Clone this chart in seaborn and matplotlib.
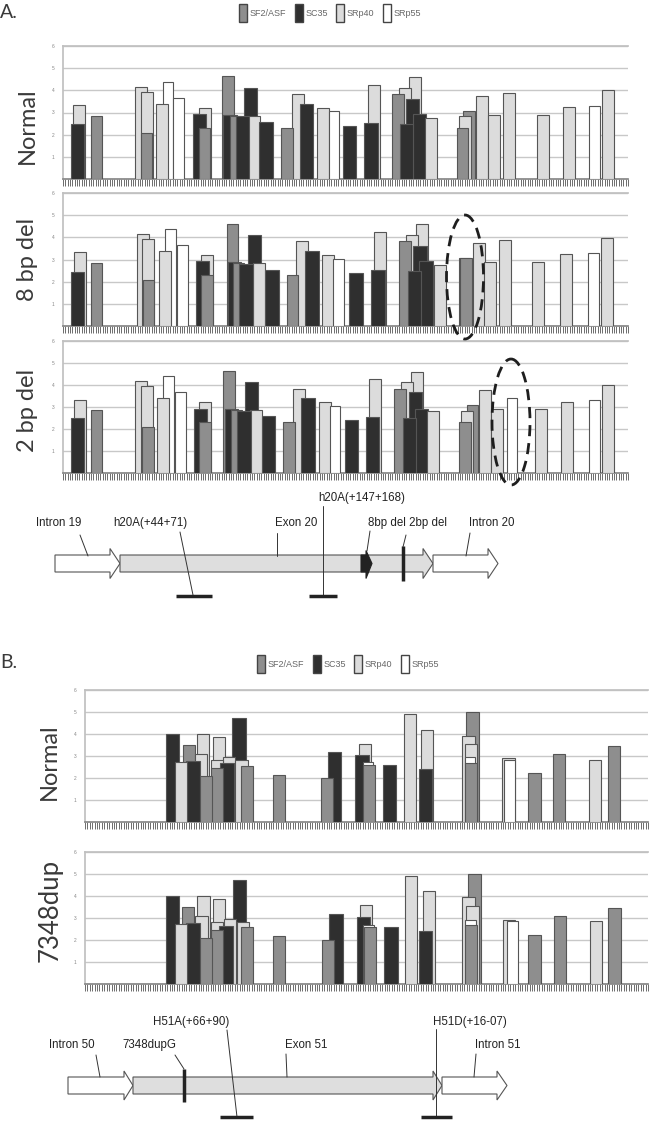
import numpy as np
import pandas as pd
import seaborn as sns
import matplotlib.pyplot as plt
from matplotlib.patches import Patch, Polygon, Ellipse

sns.set_theme(style="white")
plt.rcParams["font.family"] = ["Liberation Sans", "DejaVu Sans"]

# ESEfinder motif scores (threshold-passing hits) per protein
PROTEINS = ["SF2/ASF", "SC35", "SRp40", "SRp55"]
COLORS = {"SF2/ASF": "#8e8e8e", "SC35": "#2f2f2f", "SRp40": "#dcdcdc", "SRp55": "#ffffff"}
WIDTHS = {"SF2/ASF": 5.0, "SC35": 5.7, "SRp40": 5.1, "SRp55": 4.4}
EDGE = "#555555"

# --- Exon 20 (panel A) ---
A_LEN = 242
a_normal_prot = ["SC35", "SRp40", "SF2/ASF", "SRp40", "SRp40", "SF2/ASF", "SRp40", "SRp55", "SRp55",
                 "SC35", "SRp40", "SF2/ASF", "SF2/ASF", "SC35", "SF2/ASF", "SC35", "SC35", "SRp40",
                 "SC35", "SF2/ASF", "SRp40", "SC35", "SRp40", "SRp55", "SC35", "SRp40", "SC35",
                 "SF2/ASF", "SRp40", "SRp40", "SC35", "SC35", "SC35", "SRp40", "SF2/ASF", "SRp40",
                 "SF2/ASF", "SRp40", "SRp40", "SRp40", "SRp40", "SRp40", "SRp55", "SRp40"]
a_normal_start = [3.30, 4.41, 11.86, 30.84, 33.28, 33.28, 39.83, 42.70, 47.24, 55.55, 58.38, 58.12,
                  68.10, 68.66, 71.32, 74.10, 77.40, 79.37, 84.08, 93.37, 98.21, 101.51, 108.66,
                  113.93, 119.80, 130.51, 129.05, 141.05, 144.04, 148.07, 144.34, 146.91, 149.78,
                  155.05, 168.63, 169.49, 171.46, 176.90, 181.91, 188.59, 202.89, 214.03, 225.42, 230.74]
a_normal_score = [2.47, 3.32, 2.84, 4.15, 3.92, 2.06, 3.37, 4.38, 3.67, 2.92, 3.22, 2.30, 4.63, 2.90,
                  2.85, 2.82, 4.10, 2.85, 2.57, 2.32, 3.83, 3.38, 3.22, 3.05, 2.41, 4.24, 2.53, 3.82,
                  4.10, 4.59, 2.48, 3.62, 2.92, 2.77, 2.30, 2.84, 3.08, 3.76, 2.89, 3.89, 2.89, 3.23,
                  3.29, 4.00]

a_8bp_prot = ["SC35", "SRp40", "SF2/ASF", "SRp40", "SRp40", "SF2/ASF", "SRp40", "SRp55", "SRp55",
              "SC35", "SRp40", "SF2/ASF", "SF2/ASF", "SC35", "SF2/ASF", "SC35", "SC35", "SRp40",
              "SC35", "SF2/ASF", "SRp40", "SC35", "SRp40", "SRp55", "SC35", "SRp40", "SC35",
              "SF2/ASF", "SRp40", "SRp40", "SC35", "SC35", "SC35", "SRp40", "SF2/ASF", "SF2/ASF",
              "SRp40", "SRp40", "SRp40", "SRp40", "SRp40", "SRp55", "SRp40"]
a_8bp_start = [3.30, 4.71, 11.86, 31.57, 33.84, 34.14, 40.99, 43.82, 48.96, 56.97, 59.24, 59.24,
               70.12, 70.67, 72.69, 75.51, 79.24, 81.51, 86.65, 95.81, 99.80, 103.78, 110.93,
               115.77, 122.63, 133.21, 132.05, 144.05, 146.91, 151.20, 147.77, 150.04, 152.61,
               158.91, 169.49, 170.04, 175.48, 180.32, 186.88, 200.88, 212.88, 225.00, 230.30]
a_8bp_score = [2.44, 3.32, 2.84, 4.17, 3.94, 2.09, 3.37, 4.36, 3.67, 2.92, 3.20, 2.29, 4.62, 2.89,
               2.84, 2.81, 4.09, 2.84, 2.54, 2.30, 3.82, 3.38, 3.20, 3.02, 2.41, 4.24, 2.51, 3.82,
               4.12, 4.59, 2.48, 3.62, 2.92, 2.75, 3.08, 3.05, 3.76, 2.87, 3.89, 2.89, 3.23, 3.29, 3.98]

a_2bp_prot = ["SC35", "SRp40", "SF2/ASF", "SRp40", "SRp40", "SF2/ASF", "SRp40", "SRp55", "SRp55",
              "SC35", "SRp40", "SF2/ASF", "SF2/ASF", "SC35", "SF2/ASF", "SC35", "SC35", "SRp40",
              "SC35", "SF2/ASF", "SRp40", "SC35", "SRp40", "SRp55", "SC35", "SRp40", "SC35",
              "SF2/ASF", "SRp40", "SRp40", "SC35", "SC35", "SC35", "SRp40", "SF2/ASF", "SRp40",
              "SF2/ASF", "SRp40", "SRp40", "SRp55", "SRp40", "SRp40", "SRp55", "SRp40"]
a_2bp_start = [3.30, 4.71, 11.86, 30.97, 33.28, 33.84, 40.39, 42.96, 48.10, 56.11, 58.38, 58.38,
               68.66, 69.26, 71.83, 74.66, 77.83, 80.10, 85.24, 94.36, 98.39, 102.07, 109.52,
               114.36, 120.79, 131.20, 129.78, 141.90, 144.90, 148.93, 145.50, 148.07, 150.64,
               156.04, 169.74, 170.34, 172.91, 178.05, 183.45, 190.05, 202.30, 213.43, 225.42, 230.86]
a_2bp_score = [2.48, 3.33, 2.86, 4.18, 3.95, 2.08, 3.39, 4.41, 3.68, 2.93, 3.24, 2.31, 4.65, 2.90,
               2.86, 2.81, 4.12, 2.86, 2.57, 2.33, 3.84, 3.40, 3.24, 3.05, 2.43, 4.29, 2.54, 3.84,
               4.13, 4.60, 2.49, 3.66, 2.93, 2.80, 2.31, 2.84, 3.07, 3.78, 2.90, 3.42, 2.90, 3.24,
               3.31, 3.98]

# --- Exon 51 (panel B) ---
B_LEN = 233
b_prot = ["SC35", "SRp40", "SF2/ASF", "SC35", "SRp40", "SRp40", "SF2/ASF", "SRp40", "SRp40",
          "SF2/ASF", "SC35", "SRp40", "SC35", "SRp40", "SF2/ASF", "SF2/ASF", "SF2/ASF", "SC35",
          "SC35", "SRp40", "SRp55", "SF2/ASF", "SC35", "SRp40", "SRp40", "SC35", "SF2/ASF",
          "SRp40", "SRp40", "SRp55", "SF2/ASF", "SRp40", "SRp55", "SF2/ASF", "SF2/ASF", "SRp40",
          "SF2/ASF"]
b_normal_start = [33.38, 37.10, 40.54, 41.78, 46.20, 45.38, 47.57, 52.82, 51.99, 52.24, 60.80,
                  56.96, 55.84, 62.17, 64.40, 77.64, 97.62, 100.39, 111.80, 113.46, 114.87, 115.11,
                  123.14, 131.95, 139.10, 138.03, 157.88, 156.23, 157.31, 157.06, 157.06, 172.77,
                  173.60, 183.53, 193.70, 208.59, 216.33]
b_normal_score = [4.02, 2.71, 3.50, 2.79, 3.98, 3.09, 2.08, 3.85, 2.82, 2.45, 4.73, 2.95, 2.67,
                  2.82, 2.56, 2.15, 2.00, 3.17, 3.05, 3.56, 2.71, 2.59, 2.58, 4.91, 4.18, 2.42,
                  5.00, 3.92, 3.55, 2.94, 2.70, 2.89, 2.82, 2.24, 3.09, 2.82, 3.47]
b_dup_start = [33.38, 37.10, 40.25, 41.78, 46.45, 45.62, 47.57, 52.82, 51.99, 52.24, 61.09, 57.49,
               55.55, 62.75, 64.65, 77.89, 98.03, 101.05, 112.38, 113.75, 115.11, 115.40, 123.68,
               132.49, 139.68, 138.03, 158.71, 156.23, 157.88, 157.31, 157.31, 173.03, 174.68,
               183.53, 193.99, 208.88, 216.62]
b_dup_score = [4.01, 2.73, 3.51, 2.79, 4.01, 3.10, 2.08, 3.88, 2.83, 2.46, 4.75, 2.96, 2.65, 2.83,
               2.58, 2.16, 2.00, 3.20, 3.06, 3.59, 2.70, 2.58, 2.58, 4.92, 4.21, 2.43, 5.02, 3.97,
               3.56, 2.91, 2.70, 2.91, 2.85, 2.25, 3.09, 2.85, 3.47]

W, H = 667, 1121


def fig_rect(left, top, right, bottom):
    return [left / W, 1 - bottom / H, (right - left) / W, (bottom - top) / H]


def draw_panel(ax, prot, start, score, n_pos):
    df = pd.DataFrame({"protein": prot, "start": start, "score": score})
    df["width"] = df["protein"].map(WIDTHS)
    df["center"] = df["start"] + df["width"] / 2
    # taller hits first so the shorter ones sit in front of them
    df = df.sort_values("score", ascending=False, kind="stable")
    for _, r in df.iterrows():
        sns.barplot(x=[r.center], y=[r.score], native_scale=True, orient="x", width=r.width,
                    color=COLORS[r.protein], saturation=1, edgecolor=EDGE, linewidth=0.8,
                    errorbar=None, legend=False, ax=ax, zorder=3)
    ax.set_xlim(0, n_pos)
    ax.set_ylim(0, 6)
    ax.set_yticks(range(7))
    ax.set_yticklabels([""] + [str(i) for i in range(1, 7)])
    ax.set_xticks(np.arange(0, n_pos + 1))
    ax.tick_params(axis="x", length=5, width=0.6, color="#555555", direction="out",
                   labelbottom=False, bottom=True)
    ax.tick_params(axis="y", length=0, labelsize=3.5, labelcolor="#888888", pad=6)
    ax.yaxis.grid(True, color="#c8c8c8", lw=1.0)
    ax.xaxis.grid(False)
    ax.set_axisbelow(True)
    for side in ["left", "top"]:
        ax.spines[side].set_color("#c0c0c0")
    ax.spines["right"].set_visible(False)
    ax.spines["bottom"].set_color("#888888")
    ax.set_xlabel("")
    ax.set_ylabel("")


fig = plt.figure(figsize=(W / 100, H / 100), dpi=100)

panels = [
    (fig_rect(63, 46, 628, 179), a_normal_prot, a_normal_start, a_normal_score, A_LEN),
    (fig_rect(63, 193, 628, 326), a_8bp_prot, a_8bp_start, a_8bp_score, A_LEN),
    (fig_rect(63, 341, 628, 473), a_2bp_prot, a_2bp_start, a_2bp_score, A_LEN),
    (fig_rect(85, 690, 648, 822), b_prot, b_normal_start, b_normal_score, B_LEN),
    (fig_rect(85, 852, 648, 984), b_prot, b_dup_start, b_dup_score, B_LEN),
]
for rect, prot, start, score, n_pos in panels:
    ax = fig.add_axes(rect)
    draw_panel(ax, prot, start, score, n_pos)

# legends
handles = [Patch(facecolor=COLORS[p], edgecolor="#444444", lw=1.0) for p in PROTEINS]
for cx, cy in [(330, 13), (348, 664)]:
    fig.legend(handles, PROTEINS, loc="center", bbox_to_anchor=(cx / W, 1 - cy / H),
               ncol=4, frameon=False, fontsize=6.5, handlelength=0.9, handleheight=2.6,
               handletextpad=0.3, columnspacing=0.9, labelcolor="#666666")

# overlay in pixel coordinates for labels and gene diagrams
ov = fig.add_axes([0, 0, 1, 1], zorder=10)
ov.set_xlim(0, W)
ov.set_ylim(H, 0)
ov.axis("off")
ov.patch.set_alpha(0)

label_font = dict(family=["Lato", "DejaVu Sans"], weight="normal", color="#3a3a3a")
ov.text(0, 13, "A.", fontsize=14, ha="left", va="center", **label_font)
ov.text(0, 663, "B.", fontsize=14, ha="left", va="center", **label_font)
for txt, x, y, fs in [("Normal", 27, 126, 17), ("8 bp del", 27, 259, 17), ("2 bp del", 27, 410, 17),
                      ("Normal", 49, 762, 17), ("7348dup", 50, 910, 18.5)]:
    ov.text(x, y, txt, rotation=90, fontsize=fs, ha="center", va="center", **label_font)

# dashed circles around the changed motifs
for cx, cy, ew, eh in [(465, 277, 37, 124), (511, 422, 38, 126)]:
    ov.add_patch(Ellipse((cx, cy), ew, eh, fill=False, ls=(0, (4, 2.5)), lw=2.0, ec="#1e1e1e"))


def gene_arrow(x0, x1, yc, face, body=8.5, head=15.0, head_len=10.0):
    pts = [(x0, yc - body), (x1 - head_len, yc - body), (x1 - head_len, yc - head), (x1, yc),
           (x1 - head_len, yc + head), (x1 - head_len, yc + body), (x0, yc + body)]
    ov.add_patch(Polygon(pts, closed=True, facecolor=face, edgecolor="#555555", lw=0.8))


diag_font = dict(family=["Liberation Sans Narrow", "Liberation Sans", "DejaVu Sans"],
                 fontsize=8.3, color="#222222", ha="center", va="center")

# panel A diagram
A_Y = 563.5
gene_arrow(55, 120, A_Y, "white")
gene_arrow(120, 433, A_Y, "#dedede")
gene_arrow(433, 498, A_Y, "white")
ov.add_patch(Polygon([(361, A_Y - 8.5), (366, A_Y - 8.5), (366, A_Y - 13), (372, A_Y),
                      (366, A_Y + 15), (366, A_Y + 8.5), (361, A_Y + 8.5)],
                     closed=True, facecolor="#222222", edgecolor="#222222", lw=0.8))
ov.plot([402.7, 402.7], [546, 581], color="#222222", lw=2.5, solid_capstyle="butt")
a_notes = [("Intron 19", 59, 523, (80, 535), (88, 556)),
           ("h20A(+44+71)", 150, 523, (180, 532), (193, 595)),
           ("Exon 20", 296, 523, (277, 533), (277, 556)),
           ("h20A(+147+168)", 362, 498, (322.7, 506), (322.7, 595)),
           ("8bp del 2bp del", 407, 523, (370, 531), (367, 551)),
           ("Intron 20", 492, 523, (470, 533), (466, 556))]
for txt, tx, ty, p0, p1 in a_notes:
    ov.text(tx, ty, txt, **diag_font)
    ov.plot([p0[0], p1[0]], [p0[1], p1[1]], color="#333333", lw=0.7)
ov.plot([406, 403], [535, 547], color="#333333", lw=0.7)
for x0, x1, y in [(176, 212, 596), (309, 337, 596)]:
    ov.plot([x0, x1], [y, y], color="#222222", lw=2.5, solid_capstyle="butt")

# panel B diagram
B_Y = 1085.5
gene_arrow(68, 133, B_Y, "white", head=14.5, head_len=9)
gene_arrow(133, 442, B_Y, "#dedede", head=14.5, head_len=9)
gene_arrow(442, 507, B_Y, "white", head=14.5, head_len=10)
ov.plot([184, 184], [1069, 1102], color="#222222", lw=2.5, solid_capstyle="butt")
b_notes = [("Intron 50", 72, 1045, (96, 1055), (100, 1077)),
           ("7348dupG", 149, 1045, (175, 1055), (184, 1069)),
           ("H51A(+66+90)", 191, 1022, (227, 1030), (237, 1117)),
           ("Exon 51", 306, 1045, (286, 1054), (287, 1077)),
           ("H51D(+16-07)", 470, 1022, (436, 1029), (436, 1117)),
           ("Intron 51", 498, 1045, (476, 1054), (474, 1077))]
for txt, tx, ty, p0, p1 in b_notes:
    ov.text(tx, ty, txt, **diag_font)
    ov.plot([p0[0], p1[0]], [p0[1], p1[1]], color="#333333", lw=0.7)
for x0, x1, y in [(220, 253, 1117), (421, 452, 1117)]:
    ov.plot([x0, x1], [y, y], color="#222222", lw=2.5, solid_capstyle="butt")

fig.savefig("out.png", dpi=100)
